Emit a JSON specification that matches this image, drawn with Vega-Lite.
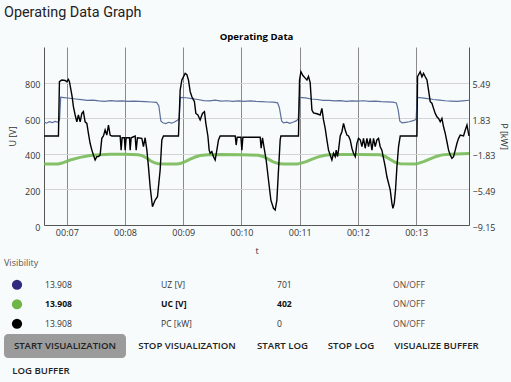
{
"$schema": "https://vega.github.io/schema/vega-lite/v6.json",
"background": "#f8fbfc",
"padding": {"left": 4, "right": 4, "top": 5, "bottom": 0},
"title": {"text": "Operating Data Graph", "anchor": "start", "fontSize": 14.4, "font": "Roboto", "fontWeight": "normal", "color": "#222222", "offset": 12},
"datasets": {
"uz": [{"t":6.610,"v":578},{"t":6.650,"v":572},{"t":6.700,"v":580},{"t":6.750,"v":575},{"t":6.800,"v":582},{"t":6.850,"v":577},{"t":6.875,"v":592},{"t":6.895,"v":718},{"t":6.950,"v":716},{"t":7.050,"v":712},{"t":7.150,"v":708},{"t":7.250,"v":704},{"t":7.350,"v":700},{"t":7.450,"v":702},{"t":7.550,"v":697},{"t":7.650,"v":695},{"t":7.750,"v":699},{"t":7.850,"v":696},{"t":7.950,"v":697},{"t":8.050,"v":694},{"t":8.150,"v":696},{"t":8.250,"v":695},{"t":8.350,"v":693},{"t":8.450,"v":691},{"t":8.540,"v":689},{"t":8.580,"v":670},{"t":8.615,"v":585},{"t":8.650,"v":574},{"t":8.700,"v":570},{"t":8.750,"v":577},{"t":8.800,"v":572},{"t":8.850,"v":579},{"t":8.900,"v":588},{"t":8.930,"v":596},{"t":8.950,"v":717},{"t":9.050,"v":715},{"t":9.150,"v":710},{"t":9.250,"v":705},{"t":9.350,"v":699},{"t":9.450,"v":697},{"t":9.550,"v":701},{"t":9.650,"v":696},{"t":9.750,"v":698},{"t":9.850,"v":694},{"t":9.950,"v":697},{"t":10.050,"v":695},{"t":10.150,"v":697},{"t":10.250,"v":694},{"t":10.350,"v":693},{"t":10.450,"v":691},{"t":10.550,"v":690},{"t":10.620,"v":686},{"t":10.650,"v":660},{"t":10.690,"v":585},{"t":10.720,"v":574},{"t":10.780,"v":578},{"t":10.830,"v":571},{"t":10.880,"v":577},{"t":10.940,"v":585},{"t":10.975,"v":596},{"t":10.995,"v":717},{"t":11.100,"v":714},{"t":11.200,"v":708},{"t":11.300,"v":705},{"t":11.400,"v":700},{"t":11.500,"v":700},{"t":11.600,"v":697},{"t":11.700,"v":699},{"t":11.800,"v":695},{"t":11.900,"v":697},{"t":12.000,"v":696},{"t":12.100,"v":698},{"t":12.200,"v":695},{"t":12.300,"v":696},{"t":12.400,"v":693},{"t":12.500,"v":692},{"t":12.600,"v":690},{"t":12.660,"v":686},{"t":12.690,"v":650},{"t":12.720,"v":583},{"t":12.760,"v":574},{"t":12.820,"v":577},{"t":12.880,"v":580},{"t":12.950,"v":586},{"t":13.000,"v":594},{"t":13.018,"v":717},{"t":13.100,"v":714},{"t":13.200,"v":710},{"t":13.300,"v":705},{"t":13.400,"v":702},{"t":13.500,"v":698},{"t":13.600,"v":696},{"t":13.700,"v":694},{"t":13.800,"v":697},{"t":13.908,"v":701}],
"uc": [{"t":6.610,"v":343},{"t":6.700,"v":343},{"t":6.851,"v":343},{"t":6.919,"v":348},{"t":7.057,"v":365},{"t":7.229,"v":380},{"t":7.400,"v":390},{"t":7.572,"v":395},{"t":7.744,"v":397},{"t":8.000,"v":397},{"t":8.225,"v":395},{"t":8.294,"v":390},{"t":8.363,"v":378},{"t":8.431,"v":362},{"t":8.500,"v":350},{"t":8.569,"v":344},{"t":8.700,"v":343},{"t":8.895,"v":343},{"t":8.947,"v":345},{"t":9.033,"v":356},{"t":9.119,"v":370},{"t":9.205,"v":382},{"t":9.290,"v":390},{"t":9.428,"v":395},{"t":9.634,"v":396},{"t":10.000,"v":394},{"t":10.287,"v":392},{"t":10.373,"v":385},{"t":10.459,"v":370},{"t":10.545,"v":355},{"t":10.631,"v":345},{"t":10.717,"v":343},{"t":10.957,"v":343},{"t":11.009,"v":346},{"t":11.112,"v":356},{"t":11.215,"v":370},{"t":11.318,"v":383},{"t":11.438,"v":392},{"t":11.576,"v":396},{"t":12.000,"v":396},{"t":12.383,"v":394},{"t":12.469,"v":385},{"t":12.555,"v":368},{"t":12.641,"v":352},{"t":12.727,"v":344},{"t":12.985,"v":343},{"t":13.036,"v":346},{"t":13.139,"v":357},{"t":13.242,"v":372},{"t":13.345,"v":385},{"t":13.448,"v":394},{"t":13.586,"v":398},{"t":13.908,"v":401}],
"pc": [{"t":6.610,"v":0},{"t":6.856,"v":0},{"t":6.873,"v":5.58},{"t":6.914,"v":5.76},{"t":6.971,"v":5.71},{"t":7.000,"v":5.58},{"t":7.027,"v":5.82},{"t":7.045,"v":5.58},{"t":7.069,"v":4.79},{"t":7.091,"v":4.04},{"t":7.113,"v":3.02},{"t":7.143,"v":2.16},{"t":7.172,"v":1.46},{"t":7.199,"v":2.16},{"t":7.229,"v":1.46},{"t":7.258,"v":2.32},{"t":7.285,"v":2.51},{"t":7.314,"v":1.46},{"t":7.344,"v":1.30},{"t":7.371,"v":0.27},{"t":7.400,"v":-0.75},{"t":7.430,"v":-1.45},{"t":7.457,"v":-1.96},{"t":7.486,"v":-2.47},{"t":7.515,"v":-2.12},{"t":7.543,"v":-2.12},{"t":7.572,"v":-1.96},{"t":7.601,"v":-0.24},{"t":7.629,"v":0},{"t":7.658,"v":0.62},{"t":7.687,"v":0.09},{"t":7.715,"v":1.13},{"t":7.744,"v":0.09},{"t":7.773,"v":0},{"t":7.916,"v":0},{"t":7.933,"v":-1.45},{"t":7.950,"v":-0.18},{"t":7.990,"v":-0.18},{"t":8.002,"v":-1.45},{"t":8.019,"v":-0.18},{"t":8.076,"v":-0.18},{"t":8.088,"v":-1.45},{"t":8.105,"v":-0.18},{"t":8.174,"v":0},{"t":8.191,"v":-1.45},{"t":8.213,"v":-0.18},{"t":8.289,"v":-0.24},{"t":8.316,"v":-1.10},{"t":8.345,"v":-0.18},{"t":8.375,"v":-1.45},{"t":8.402,"v":-3.15},{"t":8.431,"v":-5.22},{"t":8.471,"v":-7.27},{"t":8.517,"v":-6.59},{"t":8.557,"v":-6.24},{"t":8.603,"v":-3.50},{"t":8.632,"v":-0.40},{"t":8.660,"v":0},{"t":8.918,"v":0},{"t":8.947,"v":4.72},{"t":8.976,"v":5.76},{"t":9.033,"v":6.44},{"t":9.062,"v":6.31},{"t":9.089,"v":5.76},{"t":9.119,"v":4.56},{"t":9.148,"v":4.04},{"t":9.192,"v":3.53},{"t":9.216,"v":2.32},{"t":9.251,"v":2.16},{"t":9.290,"v":1.65},{"t":9.330,"v":2.32},{"t":9.364,"v":2.51},{"t":9.388,"v":1.30},{"t":9.423,"v":0},{"t":9.445,"v":-1.45},{"t":9.462,"v":-1.78},{"t":9.491,"v":-1.61},{"t":9.519,"v":-2.12},{"t":9.548,"v":-2.47},{"t":9.577,"v":-1.45},{"t":9.605,"v":-0.40},{"t":9.634,"v":0},{"t":9.892,"v":0},{"t":9.909,"v":-0.93},{"t":9.926,"v":-0.13},{"t":9.990,"v":-0.13},{"t":10.007,"v":-1.45},{"t":10.024,"v":-0.13},{"t":10.149,"v":-0.13},{"t":10.321,"v":-0.13},{"t":10.338,"v":-1.26},{"t":10.361,"v":-0.18},{"t":10.390,"v":-1.26},{"t":10.424,"v":-2.47},{"t":10.464,"v":-4.52},{"t":10.505,"v":-6.59},{"t":10.550,"v":-7.43},{"t":10.579,"v":-7.61},{"t":10.608,"v":-6.59},{"t":10.636,"v":-3.50},{"t":10.665,"v":-0.40},{"t":10.677,"v":0},{"t":10.979,"v":0},{"t":10.997,"v":5.76},{"t":11.021,"v":6.61},{"t":11.055,"v":6.22},{"t":11.095,"v":5.95},{"t":11.124,"v":5.76},{"t":11.151,"v":6.13},{"t":11.180,"v":5.49},{"t":11.210,"v":2.67},{"t":11.237,"v":2.38},{"t":11.296,"v":2.29},{"t":11.352,"v":2.16},{"t":11.381,"v":2.84},{"t":11.409,"v":1.65},{"t":11.438,"v":0.79},{"t":11.467,"v":-0.40},{"t":11.495,"v":-1.45},{"t":11.524,"v":-1.96},{"t":11.553,"v":-2.47},{"t":11.581,"v":-1.78},{"t":11.610,"v":-2.12},{"t":11.627,"v":-1.45},{"t":11.649,"v":-2.12},{"t":11.667,"v":-1.45},{"t":11.696,"v":0},{"t":11.725,"v":0.44},{"t":11.753,"v":1.30},{"t":11.782,"v":0.62},{"t":11.811,"v":0.09},{"t":11.838,"v":0},{"t":11.868,"v":-0.40},{"t":11.897,"v":-1.26},{"t":11.924,"v":-1.78},{"t":11.954,"v":-2.12},{"t":11.983,"v":-0.75},{"t":12.010,"v":-0.24},{"t":12.040,"v":-0.40},{"t":12.069,"v":-1.10},{"t":12.096,"v":-0.24},{"t":12.125,"v":-1.26},{"t":12.155,"v":-0.24},{"t":12.182,"v":-1.10},{"t":12.211,"v":-0.24},{"t":12.241,"v":-1.45},{"t":12.268,"v":-0.24},{"t":12.297,"v":-1.10},{"t":12.326,"v":-0.40},{"t":12.354,"v":-0.24},{"t":12.383,"v":-1.10},{"t":12.412,"v":-1.45},{"t":12.440,"v":-2.29},{"t":12.469,"v":-3.15},{"t":12.498,"v":-4.19},{"t":12.555,"v":-5.54},{"t":12.584,"v":-6.92},{"t":12.601,"v":-7.43},{"t":12.624,"v":-6.92},{"t":12.646,"v":-5.54},{"t":12.670,"v":-3.15},{"t":12.698,"v":-1.10},{"t":12.727,"v":0},{"t":13.014,"v":0},{"t":13.024,"v":6.09},{"t":13.070,"v":6.61},{"t":13.100,"v":6.09},{"t":13.127,"v":6.44},{"t":13.156,"v":6.09},{"t":13.186,"v":5.76},{"t":13.213,"v":4.72},{"t":13.242,"v":3.53},{"t":13.271,"v":3.37},{"t":13.299,"v":2.84},{"t":13.328,"v":2.32},{"t":13.357,"v":1.98},{"t":13.385,"v":1.81},{"t":13.414,"v":1.46},{"t":13.443,"v":1.81},{"t":13.471,"v":0.95},{"t":13.500,"v":0.27},{"t":13.529,"v":-0.59},{"t":13.557,"v":-1.45},{"t":13.586,"v":-1.96},{"t":13.615,"v":-2.29},{"t":13.643,"v":-2.12},{"t":13.672,"v":-1.45},{"t":13.701,"v":-0.75},{"t":13.729,"v":-0.24},{"t":13.758,"v":0.09},{"t":13.814,"v":0},{"t":13.844,"v":0.62},{"t":13.873,"v":1.13},{"t":13.900,"v":0.27},{"t":13.908,"v":0}],
"legend": [{"sig":"UZ [V]","tv":"13.908","val":"701","sw":"ON/OFF"},{"sig":"UC [V]","tv":"13.908","val":"402","sw":"ON/OFF"},{"sig":"PC [kW]","tv":"13.908","val":"0","sw":"ON/OFF"}]
},
"spacing": 4,
"vconcat": [
{
"spacing": 3,
"hconcat": [
{"width": 1, "height": 178, "data": {"values": [{"s": ""}]}, "mark": {"type": "text"}, "encoding": {"text": {"field": "s"}}},
{
"width": 425, "height": 178,
"title": {"text": "Operating Data", "fontSize": 9.6, "fontWeight": "bold", "color": "#000000", "offset": 5},
"layer": [
{"layer": [
{"data": {"name": "uc"}, "mark": {"type": "line", "color": "#78ba58", "strokeWidth": 3, "opacity": 0.9},
 "encoding": {
  "x": {"field": "t", "type": "quantitative", "scale": {"domain": [6.608, 13.908], "nice": false, "zero": false}, "axis": {"values": [7,8,9,10,11,12,13], "labelExpr": "'00:' + (datum.value < 10 ? '0' : '') + datum.value", "title": "t", "grid": true, "gridColor": "#8a8a8a", "gridOpacity": 1, "labelPadding": 3, "titlePadding": 9}},
  "y": {"field": "v", "type": "quantitative", "scale": {"domain": [0, 1000], "nice": false}, "axis": {"values": [0,200,400,600,800], "title": "U [V]", "grid": true, "gridColor": "#d4d4d4", "labelPadding": 4, "labelOffset": 2, "titlePadding": 7}}
 }},
{"data": {"name": "uz"}, "mark": {"type": "line", "color": "#5b6f9a", "strokeWidth": 1.2},
 "encoding": {
  "x": {"field": "t", "type": "quantitative", "scale": {"domain": [6.608, 13.908], "nice": false, "zero": false}, "axis": {"values": [7,8,9,10,11,12,13], "labelExpr": "'00:' + (datum.value < 10 ? '0' : '') + datum.value", "title": "t", "grid": true, "gridColor": "#8a8a8a", "gridOpacity": 1, "labelPadding": 3, "titlePadding": 9}},
  "y": {"field": "v", "type": "quantitative", "scale": {"domain": [0, 1000], "nice": false}, "axis": {"values": [0,200,400,600,800], "title": "U [V]", "grid": true, "gridColor": "#d4d4d4", "labelPadding": 4, "labelOffset": 2, "titlePadding": 7}}
 }}
]},
{"data": {"name": "pc"}, "mark": {"type": "line", "color": "#000000", "strokeWidth": 1.4},
 "encoding": {
  "x": {"field": "t", "type": "quantitative", "scale": {"domain": [6.608, 13.908], "nice": false, "zero": false}, "axis": {"values": [7,8,9,10,11,12,13], "labelExpr": "'00:' + (datum.value < 10 ? '0' : '') + datum.value", "title": "t", "grid": true, "gridColor": "#8a8a8a", "gridOpacity": 1, "labelPadding": 3, "titlePadding": 9}},
  "y": {"field": "v", "type": "quantitative", "scale": {"domain": [-9.15, 9.15], "nice": false, "zero": false}, "axis": {"orient": "right", "values": [-9.15,-5.49,-1.83,1.83,5.49], "format": ".2f", "title": "P [kW]", "grid": false, "labelPadding": 3, "labelOffset": 2, "titlePadding": 4}}
 }}
],
"resolve": {"scale": {"y": "independent"}}
}
]
},
{
"spacing": 0,
"vconcat": [
{
 "title": {"text": "Visibility", "anchor": "start", "fontSize": 9, "fontWeight": "normal", "color": "#555555", "offset": 7},
 "spacing": 15,
 "hconcat": [
  {"width": 26, "height": 58.5, "data": {"name": "legend"},
   "mark": {"type": "point", "filled": true, "size": 105, "opacity": 1},
   "encoding": {
    "y": {"field": "sig", "type": "nominal", "scale": {"domain": ["UZ [V]","UC [V]","PC [kW]"]}, "axis": null},
    "color": {"field": "sig", "type": "nominal", "scale": {"domain": ["UZ [V]","UC [V]","PC [kW]"], "range": ["#2f2a7d","#6db545","#000000"]}, "legend": null}
   }},
  {"width": 348, "height": 58.5, "data": {"name": "legend"},
   "transform": [{"fold": ["tv","sig","val","sw"], "as": ["col","txt"]}],
   "encoding": {
    "x": {"field": "col", "type": "nominal", "scale": {"type": "point", "padding": 0, "domain": ["tv","sig","val","sw"]}, "axis": null},
    "y": {"field": "sig", "type": "nominal", "scale": {"domain": ["UZ [V]","UC [V]","PC [kW]"]}, "axis": null},
    "text": {"field": "txt"}
   },
   "layer": [
    {"transform": [{"filter": "datum.col != 'sw' && datum.sig != 'UC [V]'"}], "mark": {"type": "text", "align": "left", "baseline": "middle", "fontSize": 8.6, "color": "#333333"}},
    {"transform": [{"filter": "datum.col != 'sw' && datum.sig == 'UC [V]'"}], "mark": {"type": "text", "align": "left", "baseline": "middle", "fontSize": 8.6, "fontWeight": "bold", "color": "#111111"}},
    {"transform": [{"filter": "datum.col == 'sw'"}], "mark": {"type": "text", "align": "left", "baseline": "middle", "fontSize": 8.6, "color": "#5e4540"}}
   ]}
 ]
},
{
 "spacing": 4,
 "hconcat": [
  {"width": 122, "height": 24, "view": {"fill": "#9b9b9b", "cornerRadius": 4, "stroke": null}, "data": {"values": [{"label": "START VISUALIZATION"}]}, "mark": {"type": "text", "fontSize": 9.6, "fontWeight": 600, "color": "#222222"}, "encoding": {"text": {"field": "label"}}},
  {"width": 114, "height": 24, "data": {"values": [{"label": "STOP VISUALIZATION"}]}, "mark": {"type": "text", "fontSize": 9.6, "fontWeight": 600, "color": "#222222"}, "encoding": {"text": {"field": "label"}}},
  {"width": 69, "height": 24, "data": {"values": [{"label": "START LOG"}]}, "mark": {"type": "text", "fontSize": 9.6, "fontWeight": 600, "color": "#222222"}, "encoding": {"text": {"field": "label"}}},
  {"width": 60, "height": 24, "data": {"values": [{"label": "STOP LOG"}]}, "mark": {"type": "text", "fontSize": 9.6, "fontWeight": 600, "color": "#222222"}, "encoding": {"text": {"field": "label"}}},
  {"width": 103, "height": 24, "data": {"values": [{"label": "VISUALIZE BUFFER"}]}, "mark": {"type": "text", "fontSize": 9.6, "fontWeight": 600, "color": "#222222"}, "encoding": {"text": {"field": "label"}}}
 ]
},
{"width": 74, "height": 26, "data": {"values": [{"label": "LOG BUFFER"}]}, "mark": {"type": "text", "fontSize": 9.6, "fontWeight": 600, "color": "#222222"}, "encoding": {"text": {"field": "label"}}}
]
}
],
"config": {
 "font": "Open Sans",
 "view": {"stroke": null},
 "axis": {"labelFont": "Open Sans", "labelFontSize": 9, "labelColor": "#333333", "titleFont": "Open Sans", "titleFontSize": 9, "titleFontWeight": "normal", "titleColor": "#333333", "domainColor": "#555555", "domainWidth": 1, "ticks": false, "tickSize": 0},
 "text": {"font": "Open Sans"},
 "title": {"font": "Open Sans"}
}
}
